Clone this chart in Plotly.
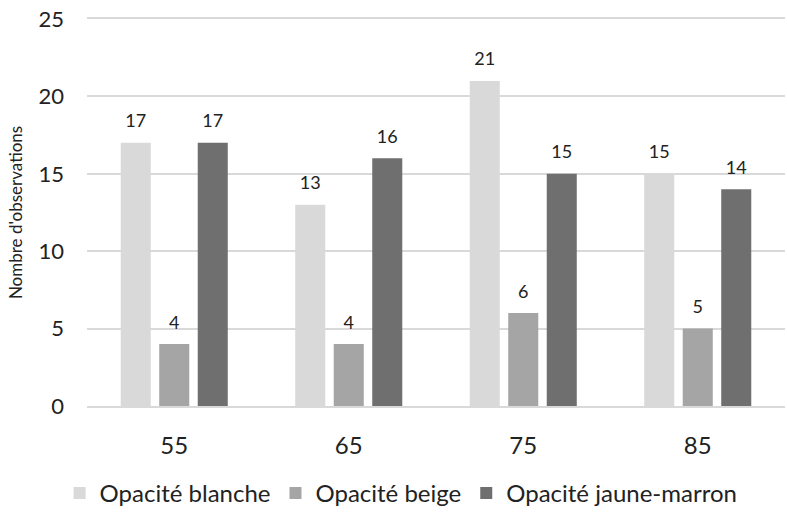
import plotly.graph_objects as go

categories = ["55", "65", "75", "85"]
series_names = ["Opacité blanche", "Opacité beige", "Opacité jaune-marron"]
blanche = [17, 13, 21, 15]
beige = [4, 4, 6, 5]
jaune_marron = [17, 16, 15, 14]
colors = ["#d9d9d9", "#a5a5a5", "#6f6f6f"]
y_ticks = [0, 5, 10, 15, 20, 25]

FONT = "Lato"
BARGAP = 0.338

fig = go.Figure()
for name, vals, col in zip(series_names, [blanche, beige, jaune_marron], colors):
    fig.add_trace(go.Bar(
        x=categories, y=vals, name=name, marker=dict(color=col, line=dict(width=0)),
        offsetgroup=name,
    ))
for name, vals in zip(series_names, [blanche, beige, jaune_marron]):
    fig.add_trace(go.Scatter(
        x=categories, y=vals, mode="markers+text", text=[str(v) for v in vals],
        textposition="top center", textfont=dict(family=FONT, size=18, color="#222"),
        marker=dict(size=16, opacity=0), offsetgroup=name, showlegend=False,
        hoverinfo="skip", cliponaxis=False,
    ))

fig.update_layout(
    width=787, height=518,
    margin=dict(l=87, r=2, t=19, b=111.5),
    plot_bgcolor="white", paper_bgcolor="white",
    barmode="group", bargap=BARGAP, bargroupgap=0.22,
    scattermode="group", scattergap=BARGAP,
    font=dict(family=FONT, color="#222"),
    legend=dict(orientation="h", x=0.45, xanchor="center",
                y=-0.284, yanchor="bottom",
                font=dict(family=FONT, size=24, color="#222"), traceorder="normal"),
    showlegend=True,
)
fig.update_xaxes(
    type="category", showgrid=False, showline=True, mirror=True, linecolor="#d9d9d9", linewidth=1.5,
    tickfont=dict(family=FONT, size=24, color="#222"), ticks="", ticklabelstandoff=17,
    automargin=False,
)
fig.update_yaxes(
    range=[0, 25], tickvals=y_ticks, showgrid=True, gridcolor="#d9d9d9", gridwidth=1.5,
    zeroline=False, showline=False, ticks="", ticklabelstandoff=22,
    tickfont=dict(family=FONT, size=22, color="#222"), automargin=False,
    title=dict(text="Nombre d'observations", font=dict(family=FONT, size=17, color="#222"), standoff=11),
)
fig.write_html("out.html", config={"displayModeBar": False},
               post_script="document.body.style.margin='0';")
